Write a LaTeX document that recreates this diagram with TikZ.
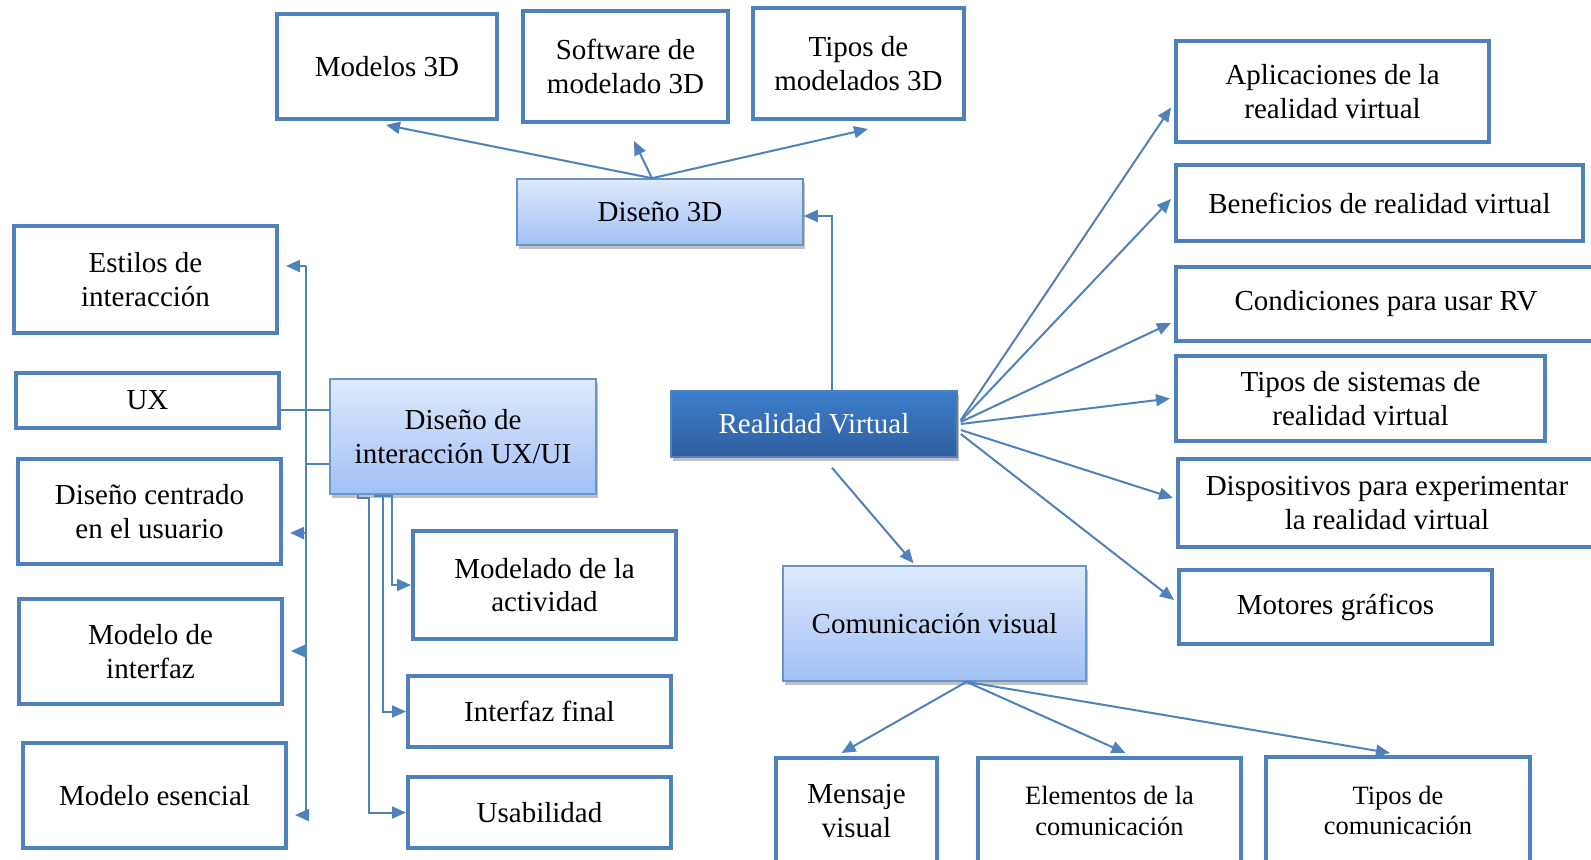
\documentclass[tikz,border=0pt]{standalone}
\usepackage{fontspec}
\setmainfont{Liberation Serif}
\usetikzlibrary{arrows.meta,shadows,calc}
\definecolor{bord}{RGB}{79,129,189}
\definecolor{lt}{RGB}{222,233,252}
\definecolor{lb}{RGB}{162,192,246}
\definecolor{dt}{RGB}{61,126,204}
\definecolor{db}{RGB}{46,94,158}
\newcommand\RVbox[7]{\node[#1, minimum width={(#5-#3-4)*0.5pt}, minimum height={(#6-#4-4)*0.5pt}] (#2) at ({(#3+#5)/2},{(#4+#6)/2}) {#7};}
\tikzset{
  txt/.style={align=center, inner sep=1pt, font=\fontsize{14.5}{16.7}\selectfont},
  wbox/.style={txt, draw=bord, line width=2pt, fill=white},
  lgbox/.style={txt, draw=bord!85, line width=0.8pt, top color=lt, bottom color=lb,
     drop shadow={shadow xshift=1pt, shadow yshift=-2pt, opacity=0.35, fill=black!70}},
  dgbox/.style={txt, draw=bord, line width=0.8pt, top color=dt, bottom color=db, text=white,
     drop shadow={shadow xshift=1pt, shadow yshift=-2pt, opacity=0.35, fill=black!70}},
  small/.style={font=\fontsize{13.2}{15.2}\selectfont},
  conn/.style={draw=bord, line width=1pt},
  arr/.style={conn, -{Triangle[length=7pt,width=6pt]}}
}
\begin{document}
\begin{tikzpicture}[x=0.5pt,y=-0.5pt]
\clip (0,0) rectangle (1591,859);
% top row
\RVbox{wbox}{m3d}{275}{12}{499}{121}{Modelos 3D}
\RVbox{wbox}{soft}{521}{9}{730}{124}{Software de\\modelado 3D}
\RVbox{wbox}{tip3}{751}{6}{966}{121}{Tipos de\\modelados 3D}
\RVbox{lgbox}{d3d}{515}{177}{805}{247}{Diseño 3D}
% left column
\RVbox{wbox}{estilos}{12}{224}{279}{335}{Estilos de\\interacción}
\RVbox{wbox}{ux}{14}{371}{281}{430}{UX}
\RVbox{wbox}{dcu}{16}{457}{283}{566}{Diseño centrado\\en el usuario}
\RVbox{wbox}{minter}{17}{597}{284}{706}{Modelo de\\interfaz}
\RVbox{wbox}{mesen}{21}{741}{288}{850}{Modelo esencial}
\RVbox{lgbox}{dint}{328}{377}{598}{496}{Diseño de\\interacción UX/UI}
\RVbox{wbox}{mact}{411}{529}{678}{641}{Modelado de la\\actividad}
\RVbox{wbox}{ifinal}{406}{674}{673}{749}{Interfaz final}
\RVbox{wbox}{usab}{406}{775}{673}{850}{Usabilidad}
% centre
\RVbox{dgbox}{rv}{669}{389}{959}{459}{Realidad Virtual}
\RVbox{lgbox}{cv}{781}{564}{1088}{683}{Comunicación visual}
\RVbox{wbox}{mens}{774}{756}{939}{866}{Mensaje\\visual}
\RVbox{wbox,small}{elem}{976}{756}{1243}{866}{Elementos de la\\comunicación}
\RVbox{wbox,small}{tcom}{1264}{755}{1532}{866}{Tipos de\\comunicación}
% right column
\RVbox{wbox}{aplic}{1174}{39}{1491}{144}{Aplicaciones de la\\realidad virtual}
\RVbox{wbox}{benef}{1174}{163}{1585}{243}{Beneficios de realidad virtual}
\RVbox{wbox}{cond}{1174}{265}{1598}{343}{Condiciones para usar RV}
\RVbox{wbox}{tsis}{1174}{354}{1547}{443}{Tipos de sistemas de\\realidad virtual}
\RVbox{wbox}{disp}{1176}{457}{1598}{549}{Dispositivos para experimentar\\la realidad virtual}
\RVbox{wbox}{mot}{1177}{568}{1494}{646}{Motores gráficos}
% Diseño 3D children
\draw[arr] ($(d3d.north)+(-8,0)$) -- ($(m3d.south)+(-1,4)$);
\draw[arr] ($(d3d.north)+(-8,0)$) -- ($(soft.south)+(8.5,17)$);
\draw[arr] ($(d3d.north)+(-8,0)$) -- ($(tip3.south)+(9.5,8)$);
% RV to Diseño 3D and Comunicación visual
\draw[arr] ($(rv.north)+(18,0)$) |- ($(d3d.east)+(0,4)$);
\draw[arr] ($(rv.south)+(18,10)$) -- ($(cv.north)+(-21,-2)$);
% Comunicación visual children
\draw[arr] ($(cv.south)+(32,0)$) -- ($(mens.north)+(-15,-3)$);
\draw[arr] ($(cv.south)+(32,0)$) -- ($(elem.north)+(16,-3)$);
\draw[arr] ($(cv.south)+(32,0)$) -- ($(tcom.north)+(-8,-2)$);
% RV right children
\draw[arr] ($(rv.east)+(3,-4)$) -- ($(aplic.west)+(-3,16)$);
\draw[arr] ($(rv.east)+(3,-3)$) -- ($(benef.west)+(-3,-4)$);
\draw[arr] ($(rv.east)+(3,-2)$) -- ($(cond.west)+(-3,19)$);
\draw[arr] ($(rv.east)+(3,0)$) -- ($(tsis.west)+(-4,0)$);
\draw[arr] ($(rv.east)+(3,6)$) -- ($(disp.west)+(-3,-5)$);
\draw[arr] ($(rv.east)+(3,10)$) -- ($(mot.west)+(-3,-7)$);
% left bus
\coordinate (bt) at (306,266);
\coordinate (b2) at (306,533);
\coordinate (b3) at (306,651);
\coordinate (bb) at (306,815);
\coordinate (b4) at (306,464);
\draw[conn] (bt) -- (bb);
\draw[arr] (bt) -- ($(estilos.east |- bt)+(7,0)$);
\draw[arr] (b2) -- ($(dcu.east |- b2)+(7,0)$);
\draw[arr] (b3) -- ($(minter.east |- b3)+(7,0)$);
\draw[arr] (bb) -- ($(mesen.east |- bb)+(7,0)$);
\draw[conn] ($(ux.east)+(0,9)$) -- ($(dint.west |- ux.east)+(0,9)$);
\draw[conn] (b4) -- (dint.west |- b4);
% bottom of Diseño de interacción
\draw[arr] (dint.south west) ++(29,0) -- ++(0,3) -- ++(11,0) |- (usab.west);
\draw[arr] (dint.south west) ++(46,0) -- ++(0,1) -- ++(8,0) |- (ifinal.west);
\draw[arr] (dint.south west) ++(46,0) -- ++(0,1) -- ++(17,0) |- (mact.west);
\end{tikzpicture}
\end{document}
